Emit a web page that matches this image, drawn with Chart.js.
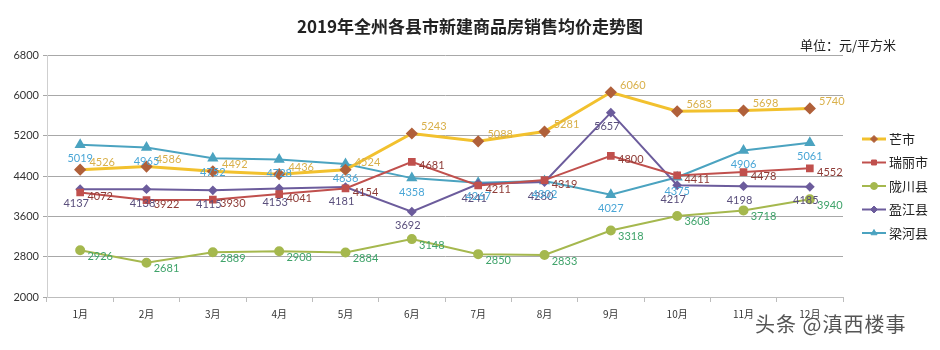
<!DOCTYPE html>
<html>
<head>
<meta charset="utf-8">
<script src="https://cdn.jsdelivr.net/npm/chart.js@4"></script>
<style>
  body { margin: 0; background: #fff; }
  .wrap { position: relative; width: 940px; height: 350px; }
  .title { position: absolute; left: 0; width: 940px; top: 13px; text-align: center;
           font: bold 17px "Noto Sans CJK SC", sans-serif; color: #222; }
  .unit { position: absolute; left: 800px; top: 35px; font: 13px "Noto Sans CJK SC", sans-serif; color: #222; }
  .mark { position: absolute; left: 755px; top: 309px; font: 20px "Noto Sans CJK SC", sans-serif;
          color: #555; letter-spacing: 1px; }
</style>
</head>
<body>
<div class="wrap">
  <canvas id="priceChart" width="940" height="350"></canvas>
  <div class="title">2019年全州各县市新建商品房销售均价走势图</div>
  <div class="unit">单位：元/平方米</div>
  <div class="mark">头条 @滇西楼事</div>
</div>
<script>
const months = ['1月', '2月', '3月', '4月', '5月', '6月', '7月', '8月', '9月', '10月', '11月', '12月'];
const yTicks = [2000, 2800, 3600, 4400, 5200, 6000, 6800];

const mangshi  = [4526, 4586, 4492, 4436, 4524, 5243, 5088, 5281, 6060, 5683, 5698, 5740];
const ruili    = [4072, 3922, 3930, 4041, 4154, 4681, 4211, 4319, 4800, 4411, 4478, 4552];
const longchuan = [2926, 2681, 2889, 2908, 2884, 3148, 2850, 2833, 3318, 3608, 3718, 3940];
const yingjiang = [4137, 4138, 4115, 4153, 4181, 3692, 4241, 4280, 5657, 4217, 4198, 4185];
const lianghe  = [5019, 4965, 4752, 4728, 4636, 4358, 4267, 4302, 4027, 4375, 4906, 5061];

// label style per series: colour and offset from the point
const labelStyle = [
    { color: '#d9b04a', dx: 22, dy: -7 },
    { color: '#8e3b36', dx: 20, dy: 4 },
    { color: '#3fa36a', dx: 20, dy: 6 },
    { color: '#5a4f7c', dx: -4, dy: 14 },
    { color: '#4aa6d6', dx: 0, dy: 14 }
];

const valueLabels = {
    id: 'valueLabels',
    afterDatasetsDraw(chart) {
        const ctx = chart.ctx;
        ctx.save();
        ctx.font = '11px Lato, sans-serif';
        ctx.textAlign = 'center';
        ctx.textBaseline = 'middle';
        chart.data.datasets.forEach((ds, i) => {
            const st = labelStyle[i];
            chart.getDatasetMeta(i).data.forEach((pt, j) => {
                ctx.fillStyle = st.color;
                ctx.fillText(ds.data[j], pt.x + st.dx, pt.y + st.dy);
            });
        });
        ctx.restore();
    }
};

const sideLegend = {
    id: 'sideLegend',
    afterDraw(chart) {
        const ctx = chart.ctx;
        ctx.save();
        ctx.font = '13px "Noto Sans CJK SC", sans-serif';
        ctx.textAlign = 'left';
        ctx.textBaseline = 'middle';
        chart.data.datasets.forEach((ds, i) => {
            const y = 139 + i * 23.5;
            ctx.strokeStyle = ds.borderColor;
            ctx.lineWidth = ds.borderWidth;
            ctx.beginPath();
            ctx.moveTo(862, y);
            ctx.lineTo(886, y);
            ctx.stroke();
            ctx.fillStyle = ds.pointBackgroundColor;
            ctx.strokeStyle = ds.pointBorderColor;
            ctx.lineWidth = 1;
            Chart.helpers.drawPoint(ctx, {
                pointStyle: ds.pointStyle, radius: 3.5, rotation: 0, borderWidth: 1
            }, 874, y);
            ctx.fillStyle = '#222';
            ctx.fillText(ds.label, 889, y);
        });
        ctx.restore();
    }
};

function series(label, data, line, fill, style, radius, width) {
    return {
        label: label,
        data: data,
        borderColor: line,
        borderWidth: width,
        pointStyle: style,
        pointRadius: radius,
        pointBackgroundColor: fill,
        pointBorderColor: fill,
        tension: 0
    };
}

new Chart(document.getElementById('priceChart'), {
    type: 'line',
    data: {
        labels: months,
        datasets: [
            series('芒市', mangshi, '#f2c12e', '#b0603a', 'rectRot', 4, 3),
            series('瑞丽市', ruili, '#c0504d', '#c0504d', 'rect', 4, 2),
            series('陇川县', longchuan, '#a5b84e', '#a5b84e', 'circle', 4, 2),
            series('盈江县', yingjiang, '#6c5c9c', '#6c5c9c', 'rectRot', 3.5, 2),
            series('梁河县', lianghe, '#4ba3c0', '#4ba3c0', 'triangle', 4.5, 2)
        ]
    },
    options: {
        responsive: false,
        animation: false,
        layout: { padding: { top: 55, right: 97, left: 0, bottom: 0 } },
        plugins: { legend: { display: false }, tooltip: { enabled: false } },
        scales: {
            x: {
                offset: true,
                grid: { offset: true, drawOnChartArea: false, drawTicks: true, tickLength: 5, color: '#bdbdbd' },
                border: { color: '#bdbdbd' },
                ticks: { color: '#333', font: { size: 10, family: '"Noto Sans CJK SC", sans-serif' }, padding: 6 },
                afterFit(scale) { scale.height = 53; }
            },
            y: {
                min: 2000,
                max: 6800,
                afterBuildTicks(scale) { scale.ticks = yTicks.map(v => ({ value: v })); },
                grid: { color: '#a8a8a8', drawTicks: true, tickLength: 4 },
                border: { color: '#cfcfcf' },
                ticks: {
                    color: '#333',
                    font: { size: 11, family: 'Lato, sans-serif' },
                    padding: 4,
                    callback: v => String(v)
                },
                afterFit(scale) { scale.width = 47; }
            }
        }
    },
    plugins: [valueLabels, sideLegend]
});
</script>
</body>
</html>
